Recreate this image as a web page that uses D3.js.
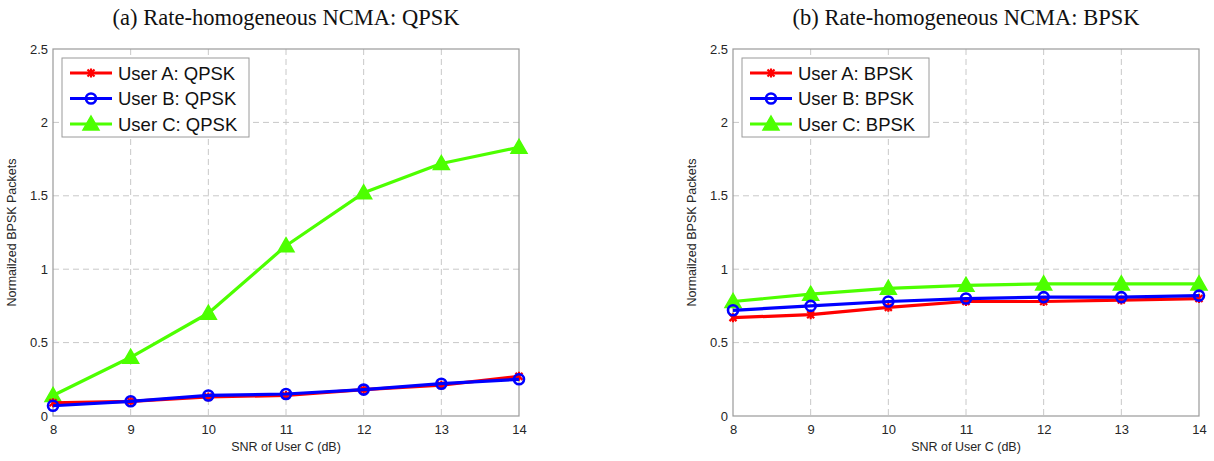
<!DOCTYPE html>
<html>
<head>
<meta charset="utf-8">
<script src="https://cdn.jsdelivr.net/npm/d3@7"></script>
<style>
  body { margin: 0; background: #fff; }
  svg text { font-family: "Liberation Sans", Arial, sans-serif; }
</style>
</head>
<body>
<div id="chart"></div>
<script>
// data
const snr = [8, 9, 10, 11, 12, 13, 14];
const yTicks = [0, 0.5, 1, 1.5, 2, 2.5];
const yTickLabels = ['0', '0.5', '1', '1.5', '2', '2.5'];

const qpskA = [0.09, 0.10, 0.13, 0.14, 0.18, 0.21, 0.27];
const qpskB = [0.07, 0.10, 0.14, 0.15, 0.18, 0.22, 0.25];
const qpskC = [0.14, 0.40, 0.70, 1.16, 1.52, 1.72, 1.83];

const bpskA = [0.67, 0.69, 0.74, 0.78, 0.78, 0.79, 0.80];
const bpskB = [0.72, 0.75, 0.78, 0.80, 0.81, 0.81, 0.82];
const bpskC = [0.78, 0.83, 0.87, 0.89, 0.90, 0.90, 0.90];

const titles = ['(a) Rate-homogeneous NCMA: QPSK', '(b) Rate-homogeneous NCMA: BPSK'];
const xLabel = 'SNR of User C (dB)';
const yLabel = 'Normailzed BPSK Packets';

const colors = { A: '#ff0000', B: '#0000ff', C: '#4dff00' };

let width = 1214;
let height = 461;

var svg = d3.select('#chart').append('svg')
  .attr('width', width)
  .attr('height', height);

function drawPanel(left, titleText, mod, seriesA, seriesB, seriesC) {
  let plotW = 466, top = 49, bottom = 416;

  var x = d3.scaleLinear().domain([8, 14]).range([left, left + plotW]);
  var y = d3.scaleLinear().domain([0, 2.5]).range([bottom, top]);

  var g = svg.append('g');

  // title (serif like the paper)
  g.append('text')
    .attr('x', left + plotW / 2)
    .attr('y', 25)
    .attr('text-anchor', 'middle')
    .style('font-family', '"Liberation Serif", "Times New Roman", serif')
    .style('font-size', '22.5px')
    .attr('fill', '#111')
    .text(titleText);

  // dashed grid
  g.selectAll('.vgrid').data(snr.slice(1, -1)).enter().append('line')
    .attr('x1', d => x(d)).attr('x2', d => x(d))
    .attr('y1', top).attr('y2', bottom)
    .attr('stroke', '#c8c8c8').attr('stroke-dasharray', '6,4').attr('stroke-width', 1);
  g.selectAll('.hgrid').data(yTicks.slice(1, -1)).enter().append('line')
    .attr('x1', left).attr('x2', left + plotW)
    .attr('y1', d => y(d)).attr('y2', d => y(d))
    .attr('stroke', '#c8c8c8').attr('stroke-dasharray', '6,4').attr('stroke-width', 1);

  // frame
  g.append('rect')
    .attr('x', left).attr('y', top)
    .attr('width', plotW).attr('height', bottom - top)
    .attr('fill', 'none').attr('stroke', '#9a9a9a').attr('stroke-width', 1.2);

  // axes
  var xAxis = d3.axisBottom(x).tickValues(snr).tickFormat(d3.format('d')).tickSize(0).tickPadding(9);
  var yAxis = d3.axisLeft(y).tickValues(yTicks).tickFormat((d, i) => yTickLabels[i]).tickSize(0).tickPadding(5);

  var gx = g.append('g').attr('transform', 'translate(0,' + bottom + ')').call(xAxis);
  var gy = g.append('g').attr('transform', 'translate(' + left + ',0)').call(yAxis);
  [gx, gy].forEach(function(a) {
    a.select('.domain').remove();
    a.selectAll('text')
      .style('font-family', '"Liberation Sans", Arial, sans-serif')
      .style('font-size', '13px')
      .attr('fill', '#262626');
  });

  g.append('text')
    .attr('x', left + plotW / 2).attr('y', 451)
    .attr('text-anchor', 'middle')
    .style('font-size', '12.5px').attr('fill', '#262626')
    .text(xLabel);

  g.append('text')
    .attr('transform', 'translate(' + (left - 37) + ',' + ((top + bottom) / 2) + ') rotate(-90)')
    .attr('text-anchor', 'middle')
    .style('font-size', '12.5px').attr('fill', '#262626')
    .text(yLabel);

  var line = d3.line().x((d, i) => x(snr[i])).y(d => y(d));

  var series = [
    { key: 'A', vals: seriesA, name: 'User A: ' + mod },
    { key: 'B', vals: seriesB, name: 'User B: ' + mod },
    { key: 'C', vals: seriesC, name: 'User C: ' + mod }
  ];

  // draw C first so A/B lie on top as in the reference
  [series[2], series[0], series[1]].forEach(function(s) {
    g.append('path')
      .datum(s.vals)
      .attr('d', line)
      .attr('fill', 'none')
      .attr('stroke', colors[s.key])
      .attr('stroke-width', 3.2)
      .attr('stroke-linejoin', 'round');
    s.vals.forEach(function(v, i) {
      drawMarker(g, s.key, x(snr[i]), y(v));
    });
  });

  // legend
  var lx = left + 9, ly = 58, lw = 187, lh = 79;
  g.append('rect')
    .attr('x', lx).attr('y', ly).attr('width', lw).attr('height', lh)
    .attr('fill', '#fff').attr('stroke', '#9a9a9a').attr('stroke-width', 1);
  series.forEach(function(s, i) {
    var cy = ly + 15 + i * 25.5;
    g.append('line')
      .attr('x1', lx + 8).attr('x2', lx + 50)
      .attr('y1', cy).attr('y2', cy)
      .attr('stroke', colors[s.key]).attr('stroke-width', 3.2);
    drawMarker(g, s.key, lx + 29, cy);
    g.append('text')
      .attr('x', lx + 56).attr('y', cy + 6.5)
      .style('font-size', '18.5px').attr('fill', '#111')
      .text(s.name);
  });
}

function drawMarker(g, key, cx, cy) {
  var c = colors[key];
  if (key === 'A') {
    var r = 3.5;
    g.append('path')
      .attr('d', 'M' + (cx - r) + ',' + (cy - r) + 'L' + (cx + r) + ',' + (cy + r) +
                 'M' + (cx - r) + ',' + (cy + r) + 'L' + (cx + r) + ',' + (cy - r) +
                 'M' + cx + ',' + (cy - r - 1) + 'L' + cx + ',' + (cy + r + 1))
      .attr('stroke', c).attr('stroke-width', 2.2).attr('fill', 'none');
  } else if (key === 'B') {
    g.append('circle')
      .attr('cx', cx).attr('cy', cy).attr('r', 5)
      .attr('fill', 'none').attr('stroke', c).attr('stroke-width', 2.6);
  } else {
    var s = 8;
    g.append('path')
      .attr('d', 'M' + cx + ',' + (cy - s) + 'L' + (cx + s) + ',' + (cy + s * 0.75) + 'L' + (cx - s) + ',' + (cy + s * 0.75) + 'Z')
      .attr('fill', c).attr('stroke', c).attr('stroke-width', 1.5);
  }
}

drawPanel(53, titles[0], 'QPSK', qpskA, qpskB, qpskC);
drawPanel(733, titles[1], 'BPSK', bpskA, bpskB, bpskC);
</script>
</body>
</html>
